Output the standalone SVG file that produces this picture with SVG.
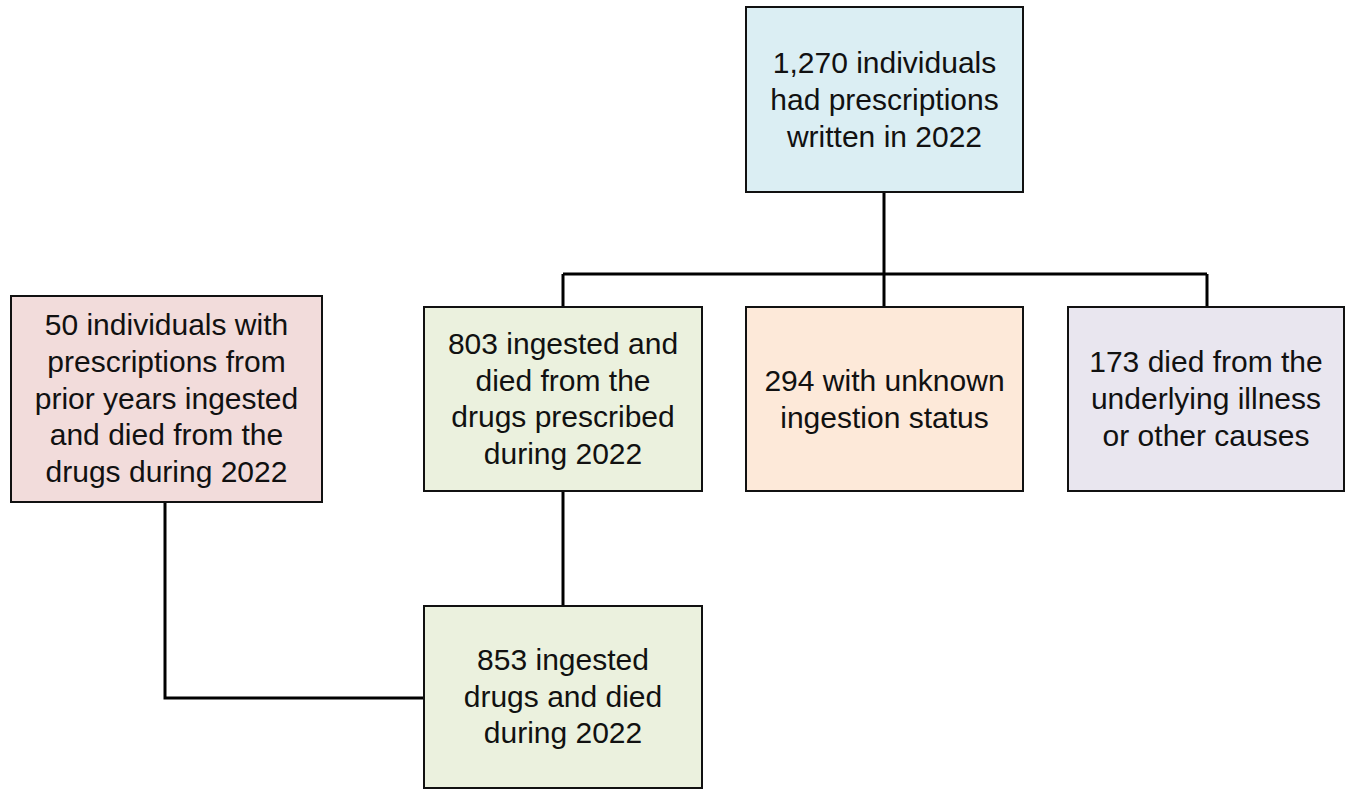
<svg xmlns="http://www.w3.org/2000/svg" width="1345" height="790" viewBox="0 0 1345 790">
<style>
.box{stroke:#111;stroke-width:2}
.t{font-family:"Liberation Sans",Arial,sans-serif;font-size:30px;fill:#111;text-anchor:middle}
.c{fill:none;stroke:#000;stroke-width:3}
</style>
<rect width="1345" height="790" fill="#fff"/>
<g id="connectors">
<path class="c" d="M884,192 V274 M563,274 H1207 M563,274 V307 M884,274 V307 M1207,274 V307"/>
<path class="c" d="M563,491 V606"/>
<path class="c" d="M165,502 V698 H424"/>
</g>
<g id="n1270">
<rect class="box" x="746" y="7" width="277" height="185" fill="#DBEEF3"/>
<text class="t" x="884.5"><tspan x="884.5" y="73">1,270 individuals</tspan><tspan x="884.5" y="110">had prescriptions</tspan><tspan x="884.5" y="147">written in 2022</tspan></text>
</g>
<g id="n50">
<rect class="box" x="11" y="296" width="311" height="206" fill="#F2DCDB"/>
<text class="t"><tspan x="166.5" y="335">50 individuals with</tspan><tspan x="166.5" y="372">prescriptions from</tspan><tspan x="166.5" y="408.5">prior years ingested</tspan><tspan x="166.5" y="445">and died from the</tspan><tspan x="166.5" y="482">drugs during 2022</tspan></text>
</g>
<g id="n803">
<rect class="box" x="424" y="307" width="278" height="184" fill="#EBF1DE"/>
<text class="t"><tspan x="563" y="354">803 ingested and</tspan><tspan x="563" y="390.5">died from the</tspan><tspan x="563" y="427">drugs prescribed</tspan><tspan x="563" y="463.5">during 2022</tspan></text>
</g>
<g id="n294">
<rect class="box" x="746" y="307" width="277" height="184" fill="#FDE9D9"/>
<text class="t"><tspan x="884.5" y="391">294 with unknown</tspan><tspan x="884.5" y="428">ingestion status</tspan></text>
</g>
<g id="n173">
<rect class="box" x="1068" y="307" width="276" height="184" fill="#E9E6EF"/>
<text class="t"><tspan x="1206" y="372">173 died from the</tspan><tspan x="1206" y="409">underlying illness</tspan><tspan x="1206" y="446">or other causes</tspan></text>
</g>
<g id="n853">
<rect class="box" x="424" y="606" width="278" height="182" fill="#EBF1DE"/>
<text class="t"><tspan x="563" y="670">853 ingested</tspan><tspan x="563" y="707">drugs and died</tspan><tspan x="563" y="743">during 2022</tspan></text>
</g>
</svg>
